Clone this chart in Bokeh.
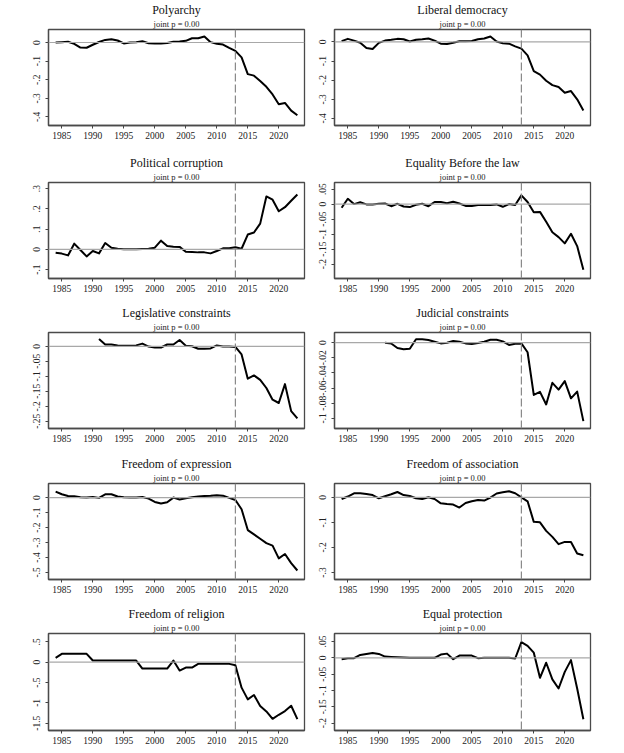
from bokeh.plotting import figure
from bokeh.models import Range1d, FixedTicker, Span, Title
from bokeh.layouts import gridplot
from bokeh.embed import file_html
from bokeh.resources import INLINE

# ---------------- data ----------------
YEARS = list(range(1984, 2024))
YEARS_1991 = list(range(1991, 2024))
TREATMENT_YEAR = 2013
X_TICKS = [1985, 1990, 1995, 2000, 2005, 2010, 2015, 2020]
SUBTITLE = "joint p = 0.00"

titles = ["Polyarchy", "Liberal democracy", "Political corruption", "Equality Before the law",
          "Legislative constraints", "Judicial constraints", "Freedom of expression",
          "Freedom of association", "Freedom of religion", "Equal protection"]

polyarchy = [0.000, 0.002, 0.004, -0.007, -0.027, -0.028, -0.012, 0.003, 0.014, 0.018,
             0.011, -0.005, 0.000, 0.002, 0.007, -0.004, -0.005, -0.005, -0.003, 0.004,
             0.005, 0.009, 0.023, 0.023, 0.032, 0.002, -0.007, -0.011, -0.029, -0.045,
             -0.080, -0.170, -0.178, -0.207, -0.238, -0.279, -0.332, -0.325, -0.366, -0.391]

liberal_democracy = [0.004, 0.016, 0.007, -0.004, -0.032, -0.037, -0.005, 0.007, 0.011, 0.016,
                     0.014, 0.002, 0.011, 0.014, 0.018, 0.007, -0.009, -0.011, -0.004, 0.004,
                     0.004, 0.005, 0.014, 0.018, 0.028, 0.002, -0.007, -0.009, -0.023, -0.035,
                     -0.070, -0.153, -0.171, -0.203, -0.226, -0.236, -0.266, -0.257, -0.300, -0.358]

political_corruption = [-0.017, -0.021, -0.030, 0.028, -0.003, -0.035, -0.008, -0.020, 0.031, 0.008,
                        0.003, 0.000, 0.000, 0.000, 0.002, 0.003, 0.008, 0.043, 0.016, 0.013,
                        0.012, -0.012, -0.013, -0.015, -0.015, -0.020, -0.008, 0.005, 0.005, 0.010,
                        0.003, 0.073, 0.083, 0.127, 0.261, 0.245, 0.188, 0.208, 0.240, 0.271]

equality_before_law = [-0.012, 0.018, 0.000, 0.006, -0.001, -0.001, 0.001, 0.002, -0.007, 0.001,
                       -0.008, -0.010, -0.002, 0.001, -0.007, 0.007, 0.007, 0.003, 0.008, 0.002,
                       -0.006, -0.006, -0.003, -0.003, -0.003, -0.001, -0.009, 0.000, -0.003, 0.029,
                       0.007, -0.027, -0.026, -0.059, -0.094, -0.110, -0.131, -0.099, -0.140, -0.219]

legislative_constraints = [0.024, 0.006, 0.006, 0.003, 0.002, 0.002, 0.003, 0.009, -0.001, -0.004,
                           -0.004, 0.006, 0.006, 0.021, 0.002, 0.000, -0.008, -0.008, -0.007, 0.003,
                           -0.001, -0.001, -0.002, -0.027, -0.108, -0.097, -0.112, -0.139, -0.178, -0.189,
                           -0.126, -0.216, -0.240]

judicial_constraints = [0.0000, -0.0010, -0.0070, -0.0085, -0.0080, 0.0045, 0.0045, 0.0036, 0.0013, -0.0009,
                        0.0000, 0.0022, 0.0013, -0.0009, -0.0018, -0.0004, 0.0013, 0.0040, 0.0040, 0.0018,
                        -0.0030, -0.0013, -0.0009, -0.0126, -0.0690, -0.0650, -0.0816, -0.0530, -0.0620, -0.0507,
                        -0.0735, -0.0646, -0.1036]

freedom_expression = [0.040, 0.022, 0.011, 0.009, 0.002, 0.000, 0.004, -0.002, 0.022, 0.022,
                      0.007, 0.002, 0.000, 0.000, 0.004, -0.007, -0.029, -0.040, -0.031, 0.000,
                      -0.013, -0.004, 0.002, 0.007, 0.011, 0.013, 0.016, 0.013, -0.002, -0.016,
                      -0.078, -0.217, -0.246, -0.275, -0.304, -0.321, -0.406, -0.377, -0.438, -0.487]

freedom_association = [-0.007, 0.003, 0.016, 0.016, 0.013, 0.009, -0.004, 0.004, 0.012, 0.021,
                       0.009, 0.005, -0.004, -0.007, 0.000, -0.007, -0.024, -0.027, -0.029, -0.041,
                       -0.023, -0.016, -0.011, -0.013, -0.001, 0.015, 0.020, 0.024, 0.016, 0.000,
                       -0.016, -0.098, -0.100, -0.134, -0.158, -0.187, -0.178, -0.178, -0.224, -0.231]

freedom_religion = [0.107, 0.206, 0.206, 0.206, 0.206, 0.206, 0.041, 0.041, 0.041, 0.041,
                    0.041, 0.041, 0.041, 0.041, -0.157, -0.157, -0.157, -0.157, -0.157, 0.041,
                    -0.206, -0.132, -0.132, -0.041, -0.041, -0.041, -0.041, -0.041, -0.041, -0.074,
                    -0.626, -0.914, -0.807, -1.079, -1.210, -1.392, -1.293, -1.203, -1.071, -1.400]

equal_protection = [-0.004, -0.001, -0.001, 0.009, 0.012, 0.015, 0.012, 0.004, 0.003, 0.002,
                    0.001, 0.000, 0.000, 0.000, 0.000, 0.000, 0.010, 0.013, -0.004, 0.007,
                    0.007, 0.007, -0.001, 0.000, 0.000, 0.000, 0.000, 0.000, -0.002, 0.048,
                    0.037, 0.016, -0.061, -0.015, -0.066, -0.094, -0.043, -0.007, -0.094, -0.188]

yticks = [
    [-0.4, -0.3, -0.2, -0.1, 0],
    [-0.4, -0.3, -0.2, -0.1, 0],
    [-0.1, 0, 0.1, 0.2, 0.3],
    [-0.2, -0.15, -0.1, -0.05, 0, 0.05],
    [-0.25, -0.2, -0.15, -0.1, -0.05, 0],
    [-0.1, -0.08, -0.06, -0.04, -0.02, 0],
    [-0.5, -0.4, -0.3, -0.2, -0.1, 0],
    [-0.3, -0.2, -0.1, 0],
    [-1.5, -1, -0.5, 0, 0.5],
    [-0.2, -0.15, -0.1, -0.05, 0, 0.05],
]

series = [polyarchy, liberal_democracy, political_corruption, equality_before_law,
          legislative_constraints, judicial_constraints, freedom_expression,
          freedom_association, freedom_religion, equal_protection]
series_years = [YEARS, YEARS, YEARS, YEARS, YEARS_1991, YEARS_1991, YEARS, YEARS, YEARS, YEARS]

# ---------------- layout / style ----------------
FONT = "Liberation Serif"
Y_RANGES = [(-0.446, 0.070), (-0.437, 0.065), (-0.144, 0.330), (-0.248, 0.072),
            (-0.274, 0.046), (-0.1134, 0.0135), (-0.547, 0.094), (-0.328, 0.055),
            (-1.68, 0.706), (-0.2227, 0.0747)]
X_RANGE = (1982.85, 2024.15)
COL_BORDERS = [(48, 8), (22, 34)]          # (left, right)
ROW_BORDERS = [(29, 27, 96), (30, 25, 96), (29, 26, 96), (29, 25, 96), (29, 22, 97)]  # (top, bottom, frame)
FIG_W = 312


def fmt(v):
    s = "%g" % v
    s = s.replace("-0.", "-.")
    if s.startswith("0."):
        s = s[1:]
    return s


def make_panel(i):
    r, c = divmod(i, 2)
    bl, br = COL_BORDERS[c]
    bt, bb, fh = ROW_BORDERS[r]
    p = figure(width=FIG_W, height=bt + fh + bb, output_backend="svg", toolbar_location=None,
               title=None, x_range=Range1d(*X_RANGE), y_range=Range1d(*Y_RANGES[i]),
               min_border_left=bl, min_border_right=br, min_border_top=bt, min_border_bottom=bb)
    p.background_fill_color = "white"
    p.border_fill_color = "white"
    p.outline_line_color = "#4a4a4a"
    p.outline_line_width = 1.3
    p.xgrid.grid_line_color = None
    p.ygrid.grid_line_color = None

    sub = Title(text=SUBTITLE, align="center", text_font=FONT, text_font_size="8.5px",
                text_font_style="normal", text_color="#222222", standoff=1)
    main = Title(text=titles[i], align="center", text_font=FONT, text_font_size="12px",
                 text_font_style="normal", text_color="#111111", standoff=0)
    p.add_layout(sub, "above")
    p.add_layout(main, "above")

    for ax in (p.xaxis, p.yaxis):
        ax.axis_line_color = "#4a4a4a"
        ax.axis_line_width = 1.3
        ax.major_tick_line_color = "#444444"
        ax.major_tick_in = 0
        ax.major_tick_out = 3
        ax.minor_tick_line_color = None
        ax.major_label_text_font = FONT
        ax.major_label_text_font_size = "9.5px"
        ax.major_label_text_color = "#222222"

    p.xaxis.ticker = FixedTicker(ticks=X_TICKS)
    p.xaxis.major_label_standoff = 3
    p.yaxis.ticker = FixedTicker(ticks=yticks[i])
    p.yaxis.major_label_overrides = {t: fmt(t) for t in yticks[i]}
    p.yaxis.major_label_orientation = "vertical"
    p.yaxis.major_label_standoff = 5

    p.add_layout(Span(location=0, dimension="width", line_color="#a8a8a8", line_width=1.2))
    p.add_layout(Span(location=TREATMENT_YEAR, dimension="height", line_color="#8a8a8a",
                      line_width=1.2, line_dash="8 3"))
    p.line(series_years[i], series[i], line_color="black", line_width=2, line_join="round")
    return p


panels = [make_panel(i) for i in range(10)]
grid = gridplot([[panels[2 * r], panels[2 * r + 1]] for r in range(5)], toolbar_location=None)

open("out.html", "w").write(file_html(grid, INLINE))
